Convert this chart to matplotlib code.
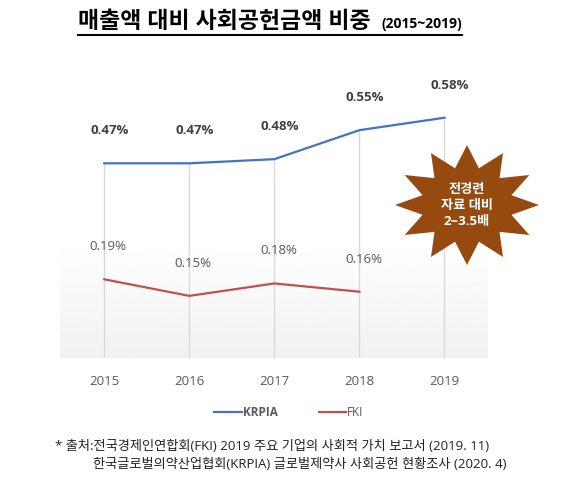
import numpy as np
import matplotlib.pyplot as plt
from matplotlib.patches import Polygon
from matplotlib.lines import Line2D

plt.rcParams['font.family'] = ['Open Sans', 'Noto Sans CJK KR', 'DejaVu Sans']

# 데이터
years = ['2015', '2016', '2017', '2018', '2019']
krpia = [0.47, 0.47, 0.48, 0.55, 0.58]
fki = [0.19, 0.15, 0.18, 0.16]

fig = plt.figure(figsize=(5.78, 4.94), dpi=100)
ax = fig.add_axes([0.1038, 0.2753, 0.7388, 0.587])

x = np.arange(len(years))
xk = x[:len(krpia)]
xf = x[:len(fki)]

# 배경 그라데이션 (위는 흰색, 아래로 갈수록 옅은 회색)
grad = np.clip(np.linspace(1.08, 0.945, 256), 0, 1).reshape(-1, 1)
ax.imshow(grad, cmap='gray', vmin=0, vmax=1, aspect='auto',
          extent=[-0.52, 4.5, 0, 0.7], zorder=0, origin='upper')

# 드롭 라인
ax.vlines(xk, 0, krpia, color='#d9d9d9', lw=1, zorder=1)

ax.plot(xk, krpia, color='#4472c4', lw=1.6, zorder=3, label='KRPIA')
ax.plot(xf, fki, color='#c0504d', lw=1.6, zorder=3, label='FKI')

for xi, v in zip(xk, krpia):
    ax.annotate(f'{v:.2f}%', (xi, v), xytext=(5, 26), textcoords='offset pixels',
                ha='center', va='bottom', fontsize=9.5, fontweight='bold', color='#404040')
for xi, v in zip(xf, fki):
    ax.annotate(f'{v:.2f}%', (xi, v), xytext=(4, 26), textcoords='offset pixels',
                ha='center', va='bottom', fontsize=9.5, color='#595959')

ax.set_xlim(-0.52, 4.5)
ax.set_ylim(0, 0.7)
ax.set_xticks(x)
ax.set_xticklabels(years, fontsize=9.5, color='#595959')
ax.tick_params(axis='x', length=0, pad=12)
ax.set_yticks([])
for s in ax.spines.values():
    s.set_visible(False)

# 범례
handles = [Line2D([], [], color='#4472c4', lw=1.6), Line2D([], [], color='#c0504d', lw=1.6)]
leg = fig.legend(handles, ['KRPIA', 'FKI'], loc='center', bbox_to_anchor=(0.5, 1 - 413 / 494),
                 ncol=2, frameon=False, fontsize=8.5, handlelength=2.3, handletextpad=0.1,
                 columnspacing=3.5)
leg.get_texts()[0].set_fontweight('bold')
for t in leg.get_texts():
    t.set_color('#595959')

# 제목
fig.text(78 / 578, 1 - 22 / 494, '매출액 대비 사회공헌금액 비중', fontsize=16.5, fontweight='bold',
         ha='left', va='center', color='black')
fig.text(462 / 578, 1 - 24 / 494, '(2015~2019)', fontsize=10, fontweight='bold',
         ha='right', va='center', color='black')
fig.add_artist(Line2D([78 / 578, 462 / 578], [1 - 35 / 494, 1 - 35 / 494], color='black', lw=1.5))

# 별 모양
cx, cy = 467, 205
n = 12
ang = np.linspace(0, 2 * np.pi, 2 * n, endpoint=False) + np.pi / 2
rx = np.where(np.arange(2 * n) % 2 == 0, 72, 46)
ry = np.where(np.arange(2 * n) % 2 == 0, 60, 38)
px = cx + rx * np.cos(ang)
py = cy - ry * np.sin(ang)
pts = np.column_stack([px / 578, 1 - py / 494])
fig.add_artist(Polygon(pts, closed=True, facecolor='#974a0f', edgecolor='none',
                       transform=fig.transFigure))
fig.text(cx / 578, 1 - cy / 494, '전경련\n자료 대비\n2~3.5배', fontsize=9.5, fontweight='bold',
         color='white', ha='center', va='center', linespacing=1.3)

# 출처
fig.text(55 / 578, 1 - 446 / 494, '* 출처:전국경제인연합회(FKI) 2019 주요 기업의 사회적 가치 보고서 (2019. 11)',
         fontsize=9.5, ha='left', va='center', color='#222222')
fig.text(93 / 578, 1 - 464 / 494, '한국글로벌의약산업협회(KRPIA) 글로벌제약사 사회공헌 현황조사 (2020. 4)',
         fontsize=9.5, ha='left', va='center', color='#222222')

fig.savefig('out.png', dpi=100)
